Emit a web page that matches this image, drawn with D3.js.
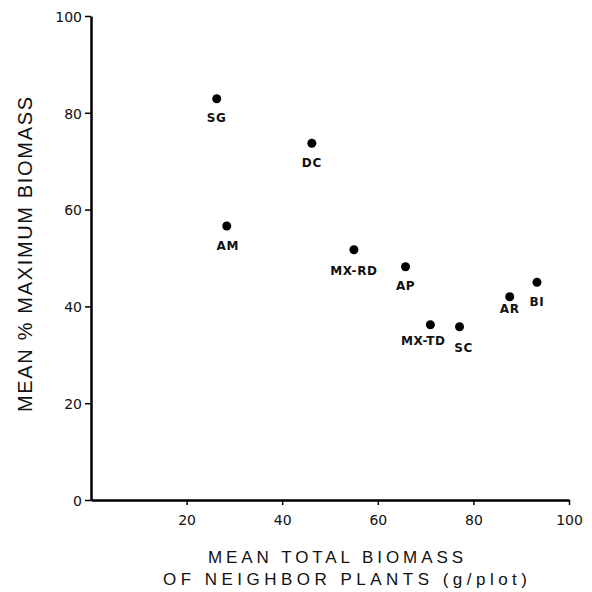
<!DOCTYPE html>
<html>
<head>
<meta charset="utf-8">
<script src="https://cdn.jsdelivr.net/npm/d3@7"></script>
<style>
  body { margin: 0; background: #fff; }
  svg { display: block; }
  text { font-family: "Liberation Sans", Arial, sans-serif; fill: #111; }
</style>
</head>
<body>
<div id="chart"></div>
<script>
// values
var labels  = ["SG", "AM", "DC", "MX-RD", "AP", "MX-TD", "SC", "AR", "BI"];
var biomass = [26.3, 28.4, 46.2, 55.0, 65.8, 71.0, 77.1, 87.6, 93.3];
var pctMax  = [82.9, 56.6, 73.7, 51.7, 48.2, 36.2, 35.8, 42.0, 45.0];
// label offsets relative to the dot (dx, dy)
var labelDx = [0, 1, 0, 0, 0, -7, 4, 0, 0];
var labelDy = [23, 24, 24, 25, 23, 20, 25, 16, 24];
var xTicks = [20, 40, 60, 80, 100];
var yTicks = [0, 20, 40, 60, 80, 100];

var W = 592, H = 592;
var margin = {top: 16, right: 23, bottom: 92, left: 91},
    width = W - margin.left - margin.right,
    height = H - margin.top - margin.bottom;

var svg = d3.select("#chart").append("svg")
    .attr("width", W).attr("height", H)
  .append("g")
    .attr("transform", "translate(" + margin.left + "," + margin.top + ")");

var x = d3.scaleLinear().domain([0, 100]).range([0, width]);
var y = d3.scaleLinear().domain([0, 100]).range([height, 0]);

var xAxis = svg.append("g")
    .attr("transform", "translate(0," + height + ")")
    .call(d3.axisBottom(x).tickValues(xTicks).tickSize(5).tickPadding(7).tickSizeOuter(0));
var yAxis = svg.append("g")
    .call(d3.axisLeft(y).tickValues(yTicks).tickSize(6).tickPadding(3).tickSizeOuter(0));

[xAxis, yAxis].forEach(function(a) {
  a.select(".domain").attr("stroke", "#000").attr("stroke-width", 2.5);
  a.selectAll(".tick line").attr("stroke", "#000").attr("stroke-width", 1.5);
  a.selectAll(".tick text")
    .style("font-family", "'DejaVu Sans', sans-serif")
    .style("font-size", "14px")
    .attr("fill", "#111");
});
xAxis.selectAll(".tick text").attr("dy", "0.9em");
yAxis.selectAll(".tick text").attr("dy", "0.38em");

var data = labels.map(function(d, i) {
  return {label: d, x: biomass[i], y: pctMax[i], dx: labelDx[i], dy: labelDy[i]};
});

svg.append("g").selectAll("circle")
  .data(data).enter()
  .append("circle")
    .attr("cx", function(d) { return x(d.x); })
    .attr("cy", function(d) { return y(d.y); })
    .attr("r", 4.5)
    .attr("fill", "#000");

svg.append("g").selectAll("text")
  .data(data).enter()
  .append("text")
    .attr("x", function(d) { return x(d.x) + d.dx; })
    .attr("y", function(d) { return y(d.y) + d.dy; })
    .attr("text-anchor", "middle")
    .style("font-family", "'DejaVu Sans', sans-serif")
    .style("font-weight", "bold")
    .style("font-size", "12px")
    .style("letter-spacing", "0.6px")
    .text(function(d) { return d.label; });

// axis titles
svg.append("text")
    .attr("x", 208 - margin.left).attr("y", 563 - margin.top)
    .attr("textLength", 255).attr("lengthAdjust", "spacing")
    .style("font-size", "17px")
    .text("MEAN TOTAL BIOMASS");
svg.append("text")
    .attr("x", 163 - margin.left).attr("y", 585 - margin.top)
    .attr("textLength", 364).attr("lengthAdjust", "spacing")
    .style("font-size", "17px")
    .text("OF NEIGHBOR PLANTS (g/plot)");
svg.append("text")
    .attr("transform", "translate(" + (32 - margin.left) + "," + (412 - margin.top) + ") rotate(-90)")
    .attr("textLength", 315).attr("lengthAdjust", "spacing")
    .style("font-size", "20px")
    .text("MEAN % MAXIMUM BIOMASS");
</script>
</body>
</html>
